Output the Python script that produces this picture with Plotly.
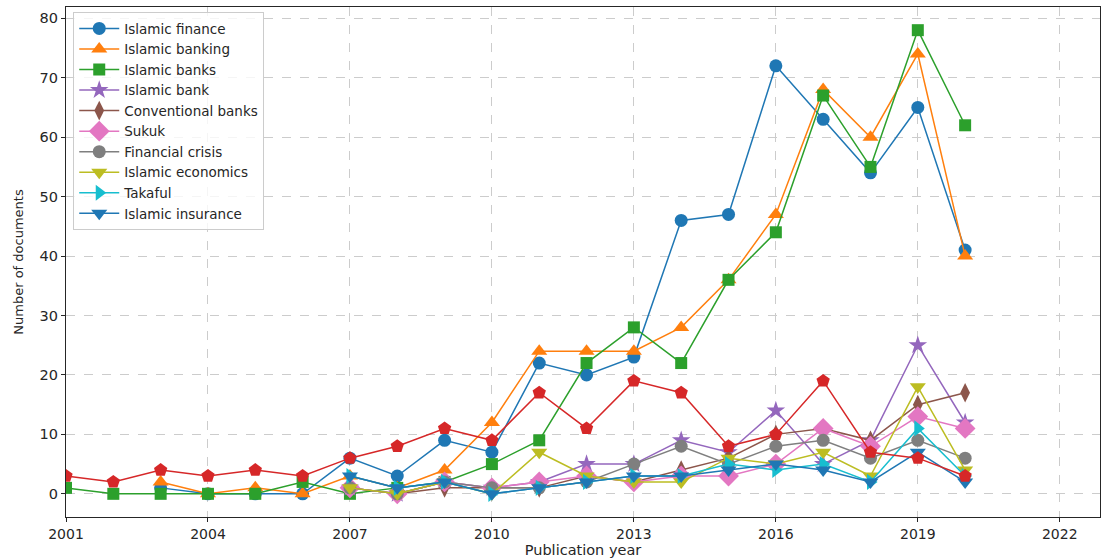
import plotly.graph_objects as go

islamic_finance_years = list(range(2003, 2021))
islamic_finance = [1, 0, 0, 0, 6, 3, 9, 7, 22, 20, 23, 46, 47, 72, 63, 54, 65, 41]

islamic_banking_years = list(range(2003, 2021))
islamic_banking = [2, 0, 1, 0, 3, 1, 4, 12, 24, 24, 24, 28, 36, 47, 68, 60, 74, 40]

islamic_banks_years = list(range(2001, 2021))
islamic_banks = [1, 0, 0, 0, 0, 2, 0, 1, 2, 5, 9, 22, 28, 22, 36, 44, 67, 55, 78, 62]

red_years = list(range(2001, 2021))
red_series = [3, 2, 4, 3, 4, 3, 6, 8, 11, 9, 17, 11, 19, 17, 8, 10, 19, 7, 6, 3]

small_years = list(range(2007, 2021))
islamic_bank = [1, 0, 2, 1, 2, 5, 5, 9, 7, 14, 5, 9, 25, 12]
conventional_banks = [1, 0, 1, 1, 1, 3, 2, 4, 6, 10, 11, 9, 15, 17]
sukuk = [1, 0, 2, 1, 2, 3, 2, 3, 3, 5, 11, 8, 13, 11]
financial_crisis = [1, 0, 2, 1, 1, 2, 5, 8, 5, 8, 9, 6, 9, 6]
islamic_economics = [1, 0, 2, 0, 7, 3, 2, 2, 6, 5, 7, 3, 18, 4]
takaful = [3, 1, 2, 0, 1, 2, 3, 3, 5, 4, 5, 2, 11, 3]
islamic_insurance = [3, 1, 2, 0, 1, 2, 3, 3, 4, 5, 4, 2, 7, 2]

x_ticks = [2001, 2004, 2007, 2010, 2013, 2016, 2019, 2022]
y_ticks = [0, 10, 20, 30, 40, 50, 60, 70, 80]

series = [
    ("Islamic finance", islamic_finance_years, islamic_finance, "#1f77b4", "circle", 13),
    ("Islamic banking", islamic_banking_years, islamic_banking, "#ff7f0e", "triangle-up", 14),
    ("Islamic banks", islamic_banks_years, islamic_banks, "#2ca02c", "square", 12),
    ("Islamic bank", small_years, islamic_bank, "#9467bd", "star", 14),
    ("Conventional banks", small_years, conventional_banks, "#8c564b", "diamond-tall", 14),
    ("Sukuk", small_years, sukuk, "#e377c2", "diamond", 16),
    ("Financial crisis", small_years, financial_crisis, "#7f7f7f", "circle", 13),
    ("Islamic economics", small_years, islamic_economics, "#bcbd22", "triangle-down", 14),
    ("Takaful", small_years, takaful, "#17becf", "triangle-right", 14),
    ("Islamic insurance", small_years, islamic_insurance, "#1f77b4", "triangle-down", 14),
]

fig = go.Figure()

for name, xs, ys, color, sym, size in series:
    fig.add_trace(go.Scatter(
        x=xs, y=ys, mode="lines+markers", name=name,
        line=dict(color=color, width=1.5),
        marker=dict(symbol=sym, size=size, color=color),
    ))

fig.add_trace(go.Scatter(
    x=red_years, y=red_series, mode="lines+markers", name="",
    line=dict(color="#d62728", width=1.5),
    marker=dict(symbol="pentagon", size=14, color="#d62728"),
    showlegend=False,
))

fig.update_layout(
    width=1102, height=558,
    margin=dict(l=66, r=2, t=7, b=41),
    paper_bgcolor="white", plot_bgcolor="white",
    font=dict(family="DejaVu Sans", size=14, color="#262626"),
    legend=dict(
        x=0.007, y=0.99, xanchor="left", yanchor="top",
        bgcolor="rgba(255,255,255,0.8)", bordercolor="#cccccc", borderwidth=1,
        font=dict(size=13.5, color="#262626"),
        tracegroupgap=0, itemsizing="trace", itemwidth=40,
    ),
    xaxis=dict(
        range=[2001, 2022.85], tickvals=x_ticks, ticktext=[str(t) for t in x_ticks],
        showgrid=True, gridcolor="#cccccc", griddash="dash", gridwidth=1,
        showline=True, linecolor="#262626", linewidth=1.2, mirror=True,
        ticks="outside", ticklen=4, tickcolor="#262626",
        tickfont=dict(size=14),
        title=dict(text="Publication year", font=dict(size=14.5), standoff=0),
        zeroline=False,
    ),
    yaxis=dict(
        range=[-3.9, 81.9], tickvals=y_ticks,
        showgrid=True, gridcolor="#cccccc", griddash="dash", gridwidth=1,
        showline=True, linecolor="#262626", linewidth=1.2, mirror=True,
        ticks="outside", ticklen=4, tickcolor="#262626",
        tickfont=dict(size=14.5),
        title=dict(text="Number of documents", font=dict(size=13), standoff=12),
        zeroline=False,
    ),
)

fig.write_html("out.html")
